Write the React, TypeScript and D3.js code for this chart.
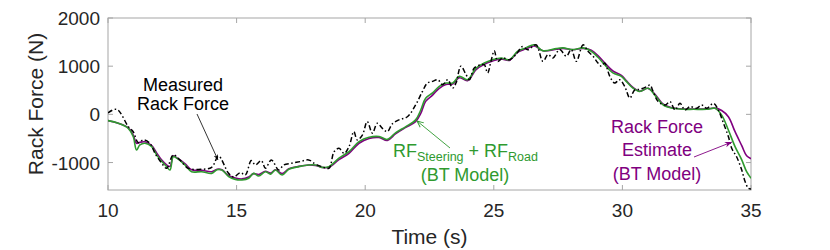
import React from 'react';
import * as d3 from 'd3';

// time (s) for the two model curves
const tModel = [10, 10.4, 10.79, 10.98, 11.11, 11.24, 11.44, 11.7, 11.89, 12.09, 12.28, 12.41, 12.54, 12.67, 12.99, 13.25, 13.64, 14.03, 14.24, 14.43, 14.69, 14.95, 15.21, 15.47, 15.66, 15.86, 16.12, 16.32, 16.51, 16.77, 17.03, 17.42, 17.8, 18.06, 18.32, 18.59, 18.98, 19.37, 19.76, 20.15, 20.54, 20.86, 21.19, 21.58, 21.96, 22.16, 22.35, 22.62, 22.88, 23.14, 23.4, 23.66, 23.98, 24.31, 24.63, 24.96, 25.28, 25.61, 25.93, 26.25, 26.57, 26.91, 27.43, 27.69, 28.08, 28.47, 28.79, 29.05, 29.31, 29.63, 29.96, 30.15, 30.41, 30.67, 31.0, 31.26, 31.59, 31.98, 32.37, 32.76, 33.28, 33.6, 33.86, 34.12, 34.38, 34.64, 34.83, 35];

// RF Steering + RF Road (BT Model)
const rfSum = [-130, -185, -290, -460, -740, -635, -600, -670, -840, -980, -1085, -1155, -875, -910, -1050, -1190, -1190, -1225, -1150, -1155, -1290, -1350, -1360, -1325, -1225, -1280, -1190, -1240, -1155, -1260, -1140, -1085, -1050, -1050, -1100, -1085, -910, -775, -565, -475, -460, -520, -380, -255, -115, 90, 335, 445, 580, 650, 650, 790, 720, 960, 1065, 1135, 1170, 1135, 1310, 1380, 1445, 1320, 1365, 1380, 1345, 1380, 1310, 1185, 1030, 860, 790, 685, 545, 475, 540, 400, 195, 125, 105, 105, 105, 125, -15, -325, -670, -945, -1190, -1325];

// Rack Force Estimate (BT Model)
const rfEstimate = [-130, -185, -280, -430, -600, -580, -570, -650, -800, -950, -1050, -1080, -860, -900, -1020, -1150, -1160, -1190, -1140, -1150, -1270, -1320, -1340, -1300, -1230, -1250, -1180, -1220, -1150, -1230, -1130, -1080, -1050, -1060, -1100, -1100, -940, -810, -600, -500, -480, -540, -400, -270, -150, 20, 270, 400, 540, 620, 630, 760, 700, 930, 1040, 1110, 1150, 1120, 1290, 1360, 1420, 1320, 1350, 1370, 1340, 1370, 1330, 1220, 1070, 900, 810, 700, 560, 480, 540, 420, 210, 130, 110, 110, 110, 130, 80, -50, -360, -650, -860, -920];

// Measured Rack Force
const tMeas = [10, 10.34, 10.79, 10.98, 11.18, 11.37, 11.63, 11.83, 12.09, 12.28, 12.54, 12.8, 13.12, 13.64, 14.03, 14.3, 14.69, 14.89, 15.15, 15.34, 15.57, 15.73, 15.96, 16.12, 16.35, 16.64, 16.83, 17.14, 17.48, 17.8, 18.06, 18.32, 18.59, 18.79, 18.98, 19.18, 19.37, 19.56, 19.69, 19.89, 20.08, 20.28, 20.47, 20.67, 20.86, 21.05, 21.31, 21.64, 21.96, 22.22, 22.41, 22.62, 22.82, 23.01, 23.21, 23.4, 23.53, 23.72, 23.92, 24.05, 24.24, 24.5, 24.63, 24.76, 24.89, 25.02, 25.15, 25.35, 25.61, 25.86, 26.12, 26.32, 26.64, 26.91, 27.11, 27.3, 27.56, 27.82, 28.01, 28.21, 28.47, 28.66, 28.86, 29.05, 29.18, 29.31, 29.51, 29.7, 29.89, 30.09, 30.29, 30.48, 30.67, 30.94, 31.07, 31.2, 31.39, 31.66, 31.85, 32.05, 32.24, 32.43, 32.63, 32.89, 33.08, 33.28, 33.54, 33.73, 33.93, 34.12, 34.25, 34.44, 34.64, 34.77, 34.9, 35];
const measured = [30, 105, -255, -360, -590, -530, -600, -810, -1015, -1120, -840, -950, -1120, -1140, -1100, -870, -1225, -1300, -1210, -1260, -960, -1050, -960, -1120, -945, -1155, -1050, -1015, -980, -945, -1030, -1085, -1120, -775, -705, -810, -670, -360, -530, -430, -150, -390, -185, -290, -360, -200, -115, -50, 195, 470, 645, 685, 720, 615, 720, 545, 650, 1000, 825, 720, 960, 1030, 1030, 860, 1100, 1320, 1100, 1170, 1135, 1240, 1410, 1340, 1445, 1100, 1240, 1170, 1345, 1205, 1345, 1100, 1445, 1310, 1205, 1065, 1000, 1065, 790, 650, 720, 580, 340, 510, 520, 575, 610, 470, 265, 195, 265, 90, 230, 90, 160, 125, 195, 125, 230, 90, -185, -460, -705, -880, -1155, -1395, -1535, -1550];

const xTicks = [10, 15, 20, 25, 30, 35];
const yTicks = [-1000, 0, 1000, 2000];

const GREEN = '#2f9a2f';
const PURPLE = '#800080';
const FONT = '"Liberation Sans", Arial, Helvetica, sans-serif';

export default function App() {
  const width = 830;
  const height = 250;
  const left = 108, right = 751, top = 18, bottom = 190;

  const x = d3.scaleLinear().domain([10, 35]).range([left, right]);
  const y = d3.scaleLinear().domain([-1570, 2000]).range([bottom, top]);

  const line = d3
    .line<[number, number]>()
    .x((d) => x(d[0]))
    .y((d) => y(d[1]))
    .curve(d3.curveCatmullRom.alpha(0.5));

  const pts = (t: number[], v: number[]) => t.map((ti, i) => [ti, v[i]] as [number, number]);

  const tickLen = 5;
  const axisColor = '#a6a6a6';
  const labelColor = '#262626';

  return (
    <svg width={width} height={height} style={{ position: 'absolute', left: 0, top: 0 }} fontFamily={FONT}>
      <defs>
        <marker id="headK" viewBox="0 0 10 10" refX="10" refY="5" markerWidth="7" markerHeight="7" orient="auto">
          <path d="M0,1 L10,5 L0,9 L3,5 Z" fill="#000" />
        </marker>
        <marker id="headG" viewBox="0 0 10 10" refX="10" refY="5" markerWidth="8" markerHeight="8" orient="auto">
          <path d="M1,1 L10,5 L1,9" fill="none" stroke={GREEN} strokeWidth="1.3" />
        </marker>
        <marker id="headP" viewBox="0 0 10 10" refX="10" refY="5" markerWidth="8" markerHeight="8" orient="auto">
          <path d="M0,1 L10,5 L0,9 L3,5 Z" fill={PURPLE} />
        </marker>
        <clipPath id="plotClip">
          <rect x={left} y={top} width={right - left} height={bottom - top} />
        </clipPath>
      </defs>

      <rect x={left} y={top} width={right - left} height={bottom - top} fill="#fff" stroke={axisColor} strokeWidth={1} />

      {xTicks.map((t) => (
        <g key={'x' + t}>
          <line x1={x(t)} x2={x(t)} y1={bottom} y2={bottom - tickLen} stroke={axisColor} />
          <line x1={x(t)} x2={x(t)} y1={top} y2={top + tickLen} stroke={axisColor} />
          <text x={x(t)} y={bottom + 27} textAnchor="middle" fontSize={19} fill={labelColor}>
            {t}
          </text>
        </g>
      ))}
      {yTicks.map((v) => (
        <g key={'y' + v}>
          <line x1={left} x2={left + tickLen} y1={y(v)} y2={y(v)} stroke={axisColor} />
          <line x1={right} x2={right - tickLen} y1={y(v)} y2={y(v)} stroke={axisColor} />
          <text x={left - 8} y={y(v) + 7} textAnchor="end" fontSize={19} fill={labelColor}>
            {v}
          </text>
        </g>
      ))}

      <text x={(left + right) / 2} y={244} textAnchor="middle" fontSize={21} fill={labelColor}>
        Time (s)
      </text>
      <text transform={`translate(43,${(top + bottom) / 2}) rotate(-90)`} textAnchor="middle" fontSize={21} fill={labelColor}>
        Rack Force (N)
      </text>

      <g clipPath="url(#plotClip)" fill="none">
        <path d={line(pts(tModel, rfEstimate)) || ''} stroke={PURPLE} strokeWidth={1.6} />
        <path d={line(pts(tModel, rfSum)) || ''} stroke={GREEN} strokeWidth={1.6} />
        <path d={line(pts(tMeas, measured)) || ''} stroke="#000" strokeWidth={1.5} strokeDasharray="5,2.5,1.5,2.5" />
      </g>

      {/* Measured annotation */}
      <text x={183} y={91} textAnchor="middle" fontSize={18} fill="#000">Measured</text>
      <text x={183} y={110} textAnchor="middle" fontSize={18} fill="#000">Rack Force</text>
      <line x1={197} y1={114} x2={218} y2={160} stroke="#000" strokeWidth={0.8} markerEnd="url(#headK)" />

      {/* RF sum annotation */}
      <text x={393} y={157} fontSize={18} fill={GREEN}>
        RF<tspan fontSize={12.5} dy={3.5}>Steering</tspan>
        <tspan dy={-3.5}> + RF</tspan>
        <tspan fontSize={12.5} dy={3.5}>Road</tspan>
      </text>
      <text x={465} y={181} textAnchor="middle" fontSize={18} fill={GREEN}>(BT Model)</text>
      <line x1={450} y1={148} x2={417} y2={121} stroke={GREEN} strokeWidth={0.9} markerEnd="url(#headG)" />

      {/* Estimate annotation */}
      <text x={657} y={133} textAnchor="middle" fontSize={18} fill={PURPLE}>Rack Force</text>
      <text x={657} y={156} textAnchor="middle" fontSize={18} fill={PURPLE}>Estimate</text>
      <text x={657} y={180} textAnchor="middle" fontSize={18} fill={PURPLE}>(BT Model)</text>
      <line x1={694} y1={157} x2={732} y2={142} stroke={PURPLE} strokeWidth={0.9} markerEnd="url(#headP)" />
    </svg>
  );
}
